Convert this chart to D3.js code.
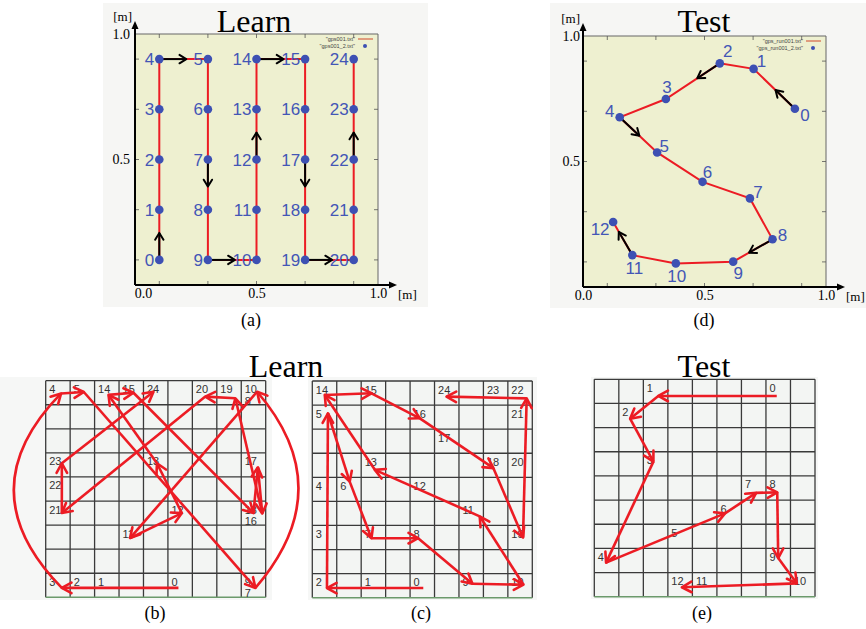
<!DOCTYPE html>
<html>
<head>
<meta charset="utf-8">
<script src="https://cdn.jsdelivr.net/npm/d3@7/dist/d3.min.js"></script>
<style>
  body { margin: 0; background: #fff; }
  svg { display: block; }
</style>
</head>
<body>
<script>
// ---------- data ----------
// (a) Learn: 25 visits on a 5x5 lattice, serpentine order
const learnX = [0.1,0.1,0.1,0.1,0.1, 0.3,0.3,0.3,0.3,0.3, 0.5,0.5,0.5,0.5,0.5, 0.7,0.7,0.7,0.7,0.7, 0.9,0.9,0.9,0.9,0.9];
const learnY = [0.1,0.3,0.5,0.7,0.9, 0.9,0.7,0.5,0.3,0.1, 0.1,0.3,0.5,0.7,0.9, 0.9,0.7,0.5,0.3,0.1, 0.1,0.3,0.5,0.7,0.9];
const learnArrows = [[0,1],[4,5],[7,8],[9,10],[12,13],[14,15],[17,18],[19,20],[22,23]];

// (d) Test: 13 visits
const testX = [0.872,0.702,0.563,0.341,0.151,0.305,0.492,0.687,0.780,0.618,0.382,0.203,0.124];
const testY = [0.710,0.869,0.891,0.749,0.676,0.536,0.419,0.353,0.190,0.101,0.094,0.127,0.259];
const testArrows = [[0,1],[2,3],[4,5],[8,9],[11,12]];

const axisTicks = [0, 0.5, 1];
const minorTicks = [0.1, 0.3, 0.5, 0.7, 0.9];

// (b) Learn on the 9x9 cell map: label [text, col, row, line]
const bLabels = [["4",0,0,0],["5",1,0,0],["14",2,0,0],["15",3,0,0],["24",4,0,0],["20",6,0,0],["19",7,0,0],["10",8,0,0],["8",8,0,1],
  ["23",0,3,0],["13",4,3,0],["17",8,3,0],["22",0,4,0],["21",0,5,0],["12",5,5,0],["18",8,5,0],["16",8,5,1],
  ["11",3,6,0],["3",0,8,0],["2",1,8,0],["1",2,8,0],["0",5,8,0],["9",8,8,0],["7",8,8,1]];
// estimated position of each visit (cell units)
const bPos = [[5.43,8.61],[2.5,8.61],[1.5,8.61],[0.66,8.61],[0.63,0.53],[1.56,0.47],[5.0,4.45],[8.58,8.61],
  [8.65,0.46],[8.6,8.4],[8.65,0.46],[3.45,6.54],[5.57,5.5],[4.55,3.43],[2.57,0.59],[3.59,0.5],[8.5,5.5],
  [8.68,3.6],[8.86,5.52],[7.76,0.73],[6.53,0.66],[0.66,5.5],[0.66,4.5],[0.66,3.43],[4.41,0.46]];
// drawn moves [from, to, bend]
const bMoves = [[0,3,0],[3,4,-2.6],[4,5,0],[5,7,0],[7,8,2.3],[10,11,0],[11,12,0],[12,13,0],[13,14,0],[14,15,0],
  [15,16,0],[16,17,0],[17,18,0],[18,19,0],[19,20,0],[20,21,0],[21,23,0],[23,24,0]];

// (c) Learn, second map
const cLabels = [["14",0,0,0],["15",2,0,0],["24",5,0,0],["23",7,0,0],["22",8,0,0],["5",0,1,0],["16",4,1,0],["21",8,1,0],
  ["17",5,2,0],["13",2,3,0],["18",7,3,0],["20",8,3,0],["4",0,4,0],["6",1,4,0],["12",4,4,0],["11",6,5,0],
  ["3",0,6,0],["7",2,6,0],["8",4,6,0],["19",8,6,0],["2",0,8,0],["1",2,8,0],["0",4,8,0],["9",6,8,0],["10",8,8,0]];
const cPos = [[4.54,8.6],[2.5,8.6],[0.6,8.6],[0.64,6.5],[0.64,4.4],[0.64,1.34],[1.53,4.18],[2.42,6.53],[4.33,6.53],
  [6.55,8.42],[8.64,8.46],[6.85,5.62],[4.6,4.6],[2.56,3.69],[0.51,0.58],[2.42,0.51],[4.4,1.55],[5.9,2.6],
  [7.41,3.62],[8.62,6.5],[8.7,3.5],[8.7,1.5],[8.77,0.72],[7.3,0.7],[5.49,0.65]];
const cMoves = [[0,2,0],[2,5,0],[5,6,0],[6,7,0],[7,8,0],[8,9,0],[9,10,0],[10,11,0],[11,13,0],[13,14,0],
  [14,15,0],[15,16,0],[16,18,0],[18,19,0],[19,22,0],[22,24,0]];

// (e) Test map
const eLabels = [["1",2,0,0],["0",7,0,0],["2",1,1,0],["3",2,3,0],["7",6,4,0],["8",7,4,0],["6",5,5,0],
  ["5",3,6,0],["4",0,7,0],["9",7,7,0],["12",3,8,0],["11",4,8,0],["10",8,8,0]];
const ePos = [[7.44,0.69],[2.61,0.69],[1.46,1.63],[2.41,3.41],[0.48,7.59],[2.9,6.55],[5.33,5.55],[6.6,4.7],
  [7.46,4.68],[7.5,7.4],[8.26,8.45],[4.5,8.61],[3.57,8.61]];
const eMoves = [[0,1,0],[1,2,0],[2,3,0],[3,4,0],[4,6,0],[6,7,0],[7,8,0],[8,9,0],[9,10,0],[10,12,0]];

// ---------- drawing ----------
const W = 866, H = 629;
const SERIF = "'Liberation Serif','Times New Roman',serif";
const SANS = "'Liberation Sans',Arial,sans-serif";
const BLUE = "#3d50b3";
const RED = "#ec1c24";

const svg = d3.select("body").append("svg")
    .attr("width", W)
    .attr("height", H);

// open V arrow head at tip, pointing away from "from"
function vHead(g, tip, from, len, half, color, w) {
  const a = Math.atan2(tip[1] - from[1], tip[0] - from[0]);
  const p = d3.path();
  p.moveTo(tip[0] - len * Math.cos(a - half), tip[1] - len * Math.sin(a - half));
  p.lineTo(tip[0], tip[1]);
  p.lineTo(tip[0] - len * Math.cos(a + half), tip[1] - len * Math.sin(a + half));
  g.append("path").attr("d", p.toString())
    .attr("fill", "none").attr("stroke", color).attr("stroke-width", w)
    .attr("stroke-linecap", "round").attr("stroke-linejoin", "round");
}

function filledHead(g, tip, dir) {
  // dir: [dx,dy] unit
  const L = 8, Wd = 3.5;
  const bx = tip[0] - dir[0] * L, by = tip[1] - dir[1] * L;
  const nx = -dir[1], ny = dir[0];
  g.append("path")
    .attr("d", `M${tip[0]},${tip[1]}L${bx + nx * Wd},${by + ny * Wd}L${bx - nx * Wd},${by - ny * Wd}Z`)
    .attr("fill", "#000");
}

function scatterPanel(o) {
  const g = svg.append("g");
  g.append("rect").attr("x", o.frame[0]).attr("y", o.frame[1])
    .attr("width", o.frame[2]).attr("height", o.frame[3]).attr("fill", "#f6f6f4");

  const x = d3.scaleLinear().domain([0, 1]).range([o.left, o.right]);
  const y = d3.scaleLinear().domain([0, 1]).range([o.bottom, o.top]);

  g.append("rect").attr("x", x(0)).attr("y", y(1))
    .attr("width", x(1) - x(0)).attr("height", y(0) - y(1))
    .attr("fill", "#eef0d0");
  g.append("path").attr("d", `M${x(0)},${y(1)}H${x(1)}V${y(0)}`)
    .attr("fill", "none").attr("stroke", "#666").attr("stroke-width", 1);

  // small inward ticks on all four sides
  const tk = g.append("g").attr("stroke", "#555").attr("stroke-width", 0.8);
  minorTicks.forEach(t => {
    tk.append("line").attr("x1", x(t)).attr("x2", x(t)).attr("y1", y(0)).attr("y2", y(0) - 4);
    tk.append("line").attr("x1", x(t)).attr("x2", x(t)).attr("y1", y(1)).attr("y2", y(1) + 4);
    tk.append("line").attr("x1", x(0)).attr("x2", x(0) + 4).attr("y1", y(t)).attr("y2", y(t));
    tk.append("line").attr("x1", x(1)).attr("x2", x(1) - 4).attr("y1", y(t)).attr("y2", y(t));
  });

  // tick labels through d3 axes
  const fmt = d3.format(".1f");
  const gxA = g.append("g").attr("transform", `translate(0,${y(0)})`)
    .call(d3.axisBottom(x).tickValues(axisTicks).tickFormat(fmt).tickSize(0).tickPadding(3));
  gxA.select(".domain").remove();
  gxA.selectAll("text").attr("font-family", SERIF).attr("font-size", 14).attr("fill", "#000")
    .attr("dx", d => d === 0 ? o.zeroShift : 0);
  const gyA = g.append("g").attr("transform", `translate(${x(0)},0)`)
    .call(d3.axisLeft(y).tickValues(axisTicks.filter(d => d > 0)).tickFormat(fmt).tickSize(0).tickPadding(o.yPad));
  gyA.select(".domain").remove();
  gyA.selectAll("text").attr("font-family", SERIF).attr("font-size", 14).attr("fill", "#000");

  // axis lines with arrows
  g.append("line").attr("x1", x(0)).attr("x2", o.xEnd - 6).attr("y1", y(0)).attr("y2", y(0))
    .attr("stroke", "#000").attr("stroke-width", 2);
  filledHead(g, [o.xEnd, y(0)], [1, 0]);
  g.append("line").attr("x1", x(0)).attr("x2", x(0)).attr("y1", y(0)).attr("y2", o.yEnd + 6)
    .attr("stroke", "#000").attr("stroke-width", 2);
  filledHead(g, [x(0), o.yEnd], [0, -1]);

  g.append("text").attr("x", o.xEnd + 1).attr("y", y(0) + 14)
    .attr("font-family", SERIF).attr("font-size", 13).text("[m]");
  g.append("text").attr("x", x(0) - 3).attr("y", o.yEnd)
    .attr("text-anchor", "end").attr("font-family", SERIF).attr("font-size", 13).text("[m]");

  // legend
  const lg = g.append("g").attr("font-family", SANS).attr("font-size", 5.5).attr("fill", "#444");
  lg.append("text").attr("x", o.legX).attr("y", y(1) + 7).attr("text-anchor", "end").text(o.leg[0]);
  lg.append("text").attr("x", o.legX).attr("y", y(1) + 13.5).attr("text-anchor", "end").text(o.leg[1]);
  lg.append("line").attr("x1", o.legX + 3).attr("x2", o.legX + 18).attr("y1", y(1) + 5).attr("y2", y(1) + 5)
    .attr("stroke", "#d0482a").attr("stroke-width", 1);
  lg.append("circle").attr("cx", o.legX + 10).attr("cy", y(1) + 12).attr("r", 2).attr("fill", BLUE);

  // path
  const idx = d3.range(o.xs.length);
  g.append("path")
    .attr("d", d3.line().x(i => x(o.xs[i])).y(i => y(o.ys[i]))(idx))
    .attr("fill", "none").attr("stroke", RED).attr("stroke-width", 2);

  // black direction arrows
  const ag = g.append("g");
  o.arrows.forEach(([i, j]) => {
    const p = [x(o.xs[i]), y(o.ys[i])], q = [x(o.xs[j]), y(o.ys[j])];
    const d = Math.hypot(q[0] - p[0], q[1] - p[1]);
    const tip = [p[0] + (q[0] - p[0]) * 27 / d, p[1] + (q[1] - p[1]) * 27 / d];
    ag.append("line").attr("x1", p[0]).attr("y1", p[1]).attr("x2", tip[0]).attr("y2", tip[1])
      .attr("stroke", "#000").attr("stroke-width", 2);
    vHead(ag, tip, p, 8, 0.55, "#000", 2);
  });

  // points
  g.selectAll("circle.pt").data(idx).enter().append("circle").attr("class", "pt")
    .attr("cx", i => x(o.xs[i])).attr("cy", i => y(o.ys[i])).attr("r", 4.3).attr("fill", BLUE);

  // labels
  g.selectAll("text.lbl").data(idx).enter().append("text").attr("class", "lbl")
    .attr("x", i => x(o.xs[i]) + o.off(i)[0])
    .attr("y", i => y(o.ys[i]) + o.off(i)[1])
    .attr("dy", "0.36em")
    .attr("text-anchor", o.anchor)
    .attr("font-family", SANS).attr("font-size", 17).attr("fill", "#4356b6")
    .text(i => i);

  g.append("text").attr("x", o.titleX).attr("y", 32).attr("text-anchor", "middle")
    .attr("font-family", SERIF).attr("font-size", 32).text(o.title);
  g.append("text").attr("x", o.capX).attr("y", 326).attr("text-anchor", "middle")
    .attr("font-family", SERIF).attr("font-size", 18).text(o.cap);
}

// label offsets for (d), text centre relative to the point
const testLabelOff = [[10,6],[8,-8],[8,-12],[1,-12],[-10,-6],[7,-7],[5,-10],[8,-7],[10,-4],[5,11],[1,12],[2,13],[-13,7]];

scatterPanel({
  frame: [103, 3, 325, 304],
  left: 135, right: 378, top: 34, bottom: 285,
  xEnd: 397, yEnd: 21, zeroShift: 8, yPad: 5,
  xs: learnX, ys: learnY, arrows: learnArrows,
  anchor: "end", off: () => [-5, 0],
  leg: ['"gps001.txt"', '"gps001_2.txt"'], legX: 355,
  title: "Learn", titleX: 254, cap: "(a)", capX: 251
});

scatterPanel({
  frame: [550, 3, 316, 305],
  left: 583, right: 826, top: 36, bottom: 287,
  xEnd: 845, yEnd: 23, zeroShift: 0, yPad: 3,
  xs: testX, ys: testY, arrows: testArrows,
  anchor: "middle", off: i => testLabelOff[i],
  leg: ['"gps_run001.txt"', '"gps_run001_2.txt"'], legX: 803,
  title: "Test", titleX: 704, cap: "(d)", capX: 704
});

function gridPanel(o) {
  const g = svg.append("g");
  g.append("rect").attr("x", o.frame[0]).attr("y", o.frame[1])
    .attr("width", o.frame[2]).attr("height", o.frame[3]).attr("fill", "#f6f7f6");

  const gx = d3.scaleLinear().domain([0, 9]).range([o.left, o.right]);
  const gy = d3.scaleLinear().domain([0, 9]).range([o.top, o.bottom]);
  const n = d3.range(10);

  g.append("rect").attr("x", gx(0)).attr("y", gy(0))
    .attr("width", gx(9) - gx(0)).attr("height", gy(9) - gy(0)).attr("fill", "#f3f5f3");
  const lines = g.append("g").attr("stroke", "#3a3a3a").attr("stroke-width", 1.3);
  n.forEach(k => {
    lines.append("line").attr("x1", gx(k)).attr("x2", gx(k)).attr("y1", gy(0)).attr("y2", gy(9));
    if (k < 9) lines.append("line").attr("x1", gx(0)).attr("x2", gx(9)).attr("y1", gy(k)).attr("y2", gy(k));
  });
  g.append("line").attr("x1", gx(0)).attr("x2", gx(9)).attr("y1", gy(9)).attr("y2", gy(9))
    .attr("stroke", "#6b9a6b").attr("stroke-width", 1.5);

  g.selectAll("text.cell").data(o.labels).enter().append("text").attr("class", "cell")
    .attr("x", d => gx(d[1]) + 3.5)
    .attr("y", d => gy(d[2]) + 12.5 + d[3] * 11.5)
    .attr("font-family", SANS).attr("font-size", 11).attr("fill", "#333")
    .text(d => d[0]);

  const ag = g.append("g");
  o.moves.forEach(([i, j, bend]) => {
    const p = [gx(o.pos[i][0]), gy(o.pos[i][1])];
    const q = [gx(o.pos[j][0]), gy(o.pos[j][1])];
    const path = d3.path();
    path.moveTo(p[0], p[1]);
    let from = p;
    if (bend) {
      const k = gx(bend) - gx(0);
      const dy = (q[1] - p[1]) / 3;
      const c1 = [p[0] + k, p[1] + dy], c2 = [q[0] + k, q[1] - dy];
      path.bezierCurveTo(c1[0], c1[1], c2[0], c2[1], q[0], q[1]);
      from = c2;
    } else {
      path.lineTo(q[0], q[1]);
    }
    ag.append("path").attr("d", path.toString()).attr("fill", "none")
      .attr("stroke", RED).attr("stroke-width", 2.6);
    vHead(ag, q, from, 11, 0.5, RED, 2.6);
  });

  if (o.title) {
    g.append("text").attr("x", o.titleX).attr("y", 377).attr("text-anchor", "middle")
      .attr("font-family", SERIF).attr("font-size", 32).text(o.title);
  }
  g.append("text").attr("x", o.capX).attr("y", 619).attr("text-anchor", "middle")
    .attr("font-family", SERIF).attr("font-size", 18).text(o.cap);
}

gridPanel({
  frame: [0, 377, 272, 223], left: 45.7, right: 265.7, top: 380.7, bottom: 597.3,
  labels: bLabels, pos: bPos, moves: bMoves, cap: "(b)", capX: 155
});
gridPanel({
  frame: [308, 377, 229, 223], left: 312.3, right: 532.3, top: 381, bottom: 597.7,
  labels: cLabels, pos: cPos, moves: cMoves, cap: "(c)", capX: 421
});
gridPanel({
  frame: [591, 377, 227, 222], left: 594.3, right: 815, top: 379.3, bottom: 596.7,
  labels: eLabels, pos: ePos, moves: eMoves, cap: "(e)", capX: 702,
  title: "Test", titleX: 704
});

// shared title for (b) and (c)
svg.append("text").attr("x", 286).attr("y", 377).attr("text-anchor", "middle")
  .attr("font-family", SERIF).attr("font-size", 32).text("Learn");
</script>
</body>
</html>
